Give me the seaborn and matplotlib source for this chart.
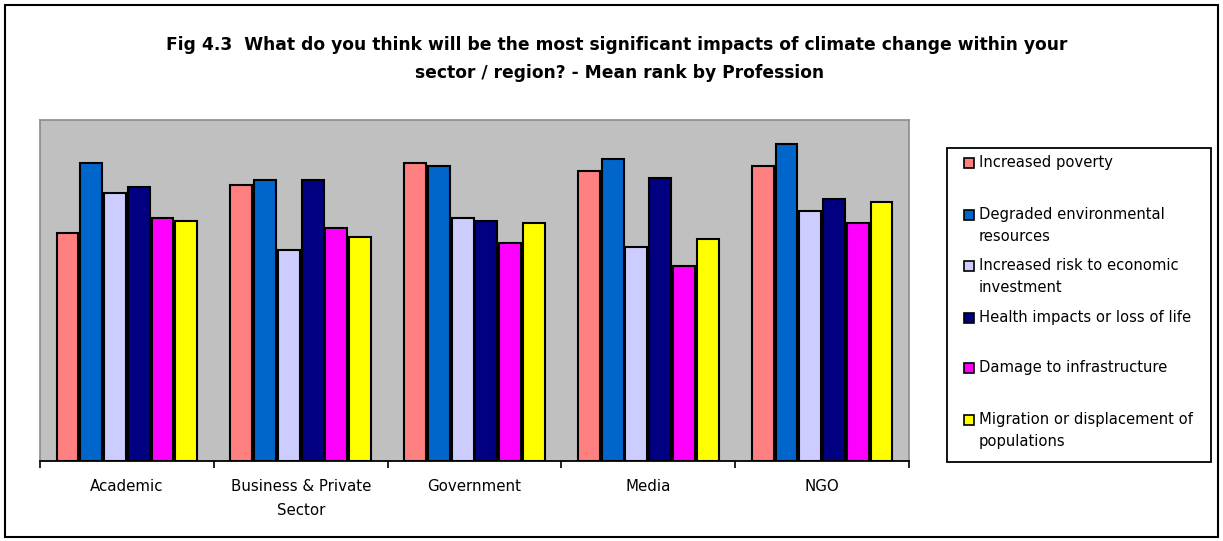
import matplotlib
matplotlib.use("Agg")
import matplotlib.pyplot as plt
from matplotlib.patches import Rectangle
import seaborn as sns
import pandas as pd
import numpy as np

# Mean rank by profession for each impact
professions = ["Academic", "Business & Private\nSector", "Government", "Media", "NGO"]
impacts = [
    "Increased poverty",
    "Degraded environmental\nresources",
    "Increased risk to economic\ninvestment",
    "Health impacts or loss of life",
    "Damage to infrastructure",
    "Migration or displacement of\npopulations",
]
increased_poverty = [3.34, 4.05, 4.37, 4.25, 4.33]
degraded_environment = [4.37, 4.12, 4.33, 4.43, 4.65]
economic_risk = [3.93, 3.09, 3.56, 3.14, 3.67]
health_impacts = [4.02, 4.12, 3.52, 4.15, 3.84]
infrastructure_damage = [3.56, 3.42, 3.20, 2.86, 3.49]
migration = [3.52, 3.28, 3.49, 3.26, 3.80]

colors = ["#FF8080", "#0066CC", "#CCCCFF", "#000080", "#FF00FF", "#FFFF00"]

series = [increased_poverty, degraded_environment, economic_risk,
          health_impacts, infrastructure_damage, migration]
rows = []
for name, vals in zip(impacts, series):
    for prof, v in zip(professions, vals):
        rows.append({"Profession": prof, "Impact": name, "Mean rank": v})
df = pd.DataFrame(rows)

sns.set_theme(style="white")
plt.rcParams["font.family"] = ["DejaVu Sans"]
plt.rcParams["text.color"] = "black"
plt.rcParams["xtick.color"] = "black"

W, H = 1223, 541
fig = plt.figure(figsize=(W / 100, H / 100), dpi=100)
fig.patch.set_facecolor("white")

# figure frame
fig.patches.append(Rectangle((5 / W, 4 / H), 1213 / W, 532 / H, transform=fig.transFigure,
                             fill=False, edgecolor="black", linewidth=1.5, zorder=0))

ax = fig.add_axes([40 / W, (H - 461) / H, 869 / W, 341 / H])
ax.set_facecolor("#C0C0C0")

sns.barplot(data=df, x="Profession", y="Mean rank", hue="Impact",
            hue_order=impacts, order=professions, palette=colors, saturation=1,
            width=0.82, gap=0.08, edgecolor="black", linewidth=1.5, legend=False, ax=ax)

ax.set_xlim(-0.5, len(professions) - 0.5)
ax.set_ylim(0, 5.0)
ax.set_xlabel("")
ax.set_ylabel("")
ax.set_yticks([])

for side in ["top", "left", "right"]:
    ax.spines[side].set_color("#8C8C8C")
    ax.spines[side].set_linewidth(1.2)
ax.spines["bottom"].set_color("black")
ax.spines["bottom"].set_linewidth(1.3)

ax.set_xticks(np.arange(len(professions)))
ax.set_xticklabels(professions, fontsize=10.8, color="black", linespacing=1.75)
ax.set_xticks(np.arange(-0.5, len(professions)), minor=True)
ax.tick_params(axis="x", which="major", length=0, pad=13)
ax.tick_params(axis="x", which="minor", length=5, width=1.2, color="black",
               direction="out", bottom=True)

fig.text(617 / W, (H - 45) / H,
         "Fig 4.3  What do you think will be the most significant impacts of climate change within your",
         ha="center", va="center", fontsize=12.3, fontweight="bold", color="black")
fig.text(620 / W, (H - 73) / H,
         "sector / region? - Mean rank by Profession",
         ha="center", va="center", fontsize=12.3, fontweight="bold", color="black")

# legend box
lx0, ly0, lx1, ly1 = 947, 148, 1211, 462
fig.patches.append(Rectangle((lx0 / W, (H - ly1) / H), (lx1 - lx0) / W, (ly1 - ly0) / H,
                             transform=fig.transFigure, facecolor="white",
                             edgecolor="black", linewidth=1.3))
entry_y = [163, 215, 266, 318, 368, 420]
for label, col, yy in zip(impacts, colors, entry_y):
    fig.patches.append(Rectangle((964 / W, (H - yy - 5) / H), 10 / W, 10 / H,
                                 transform=fig.transFigure, facecolor=col,
                                 edgecolor="black", linewidth=1.2))
    fig.text(979 / W, (H - yy + 8) / H, label, ha="left", va="top",
             fontsize=10.6, linespacing=1.6, color="black")

fig.savefig("out.png", dpi=100, facecolor="white")
